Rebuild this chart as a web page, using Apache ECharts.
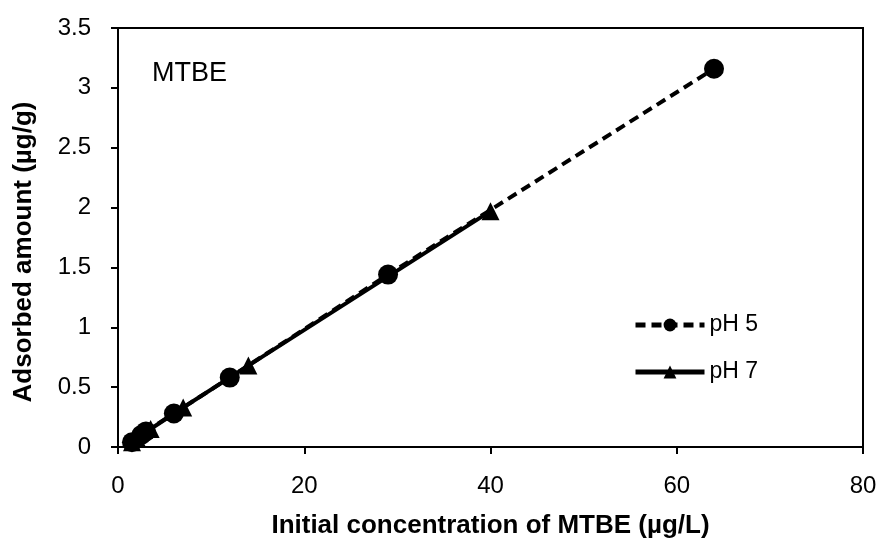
<!DOCTYPE html>
<html>
<head>
<meta charset="utf-8">
<script src="https://cdn.jsdelivr.net/npm/echarts@6/dist/echarts.min.js"></script>
<style>
  html, body { margin: 0; padding: 0; background: #fff; }
  #main { width: 881px; height: 544px; }
</style>
</head>
<body>
<div id="main"></div>
<script>
// values
var ph5 = [[1.5, 0.04], [2.5, 0.1], [3, 0.13], [6, 0.28], [12, 0.58], [29, 1.44], [64, 3.16]];
var ph7 = [[1.5, 0.04], [2, 0.08], [3.5, 0.15], [7, 0.33], [14, 0.68], [40, 1.97]];
var xTicks = [0, 20, 40, 60, 80];
var yTicks = [0, 0.5, 1, 1.5, 2, 2.5, 3, 3.5];

var myChart = echarts.init(document.getElementById('main'));

var font = 'Liberation Sans, Arial, sans-serif';

var option = {
  animation: false,
  textStyle: { fontFamily: font },
  graphic: [
    {
      type: 'text',
      left: 152,
      top: 60,
      style: { text: 'MTBE', font: '27px ' + font, fill: '#000' }
    },
    {
      // y axis title, placed by hand so it sits like the original
      type: 'text',
      x: 24,
      y: 252,
      rotation: Math.PI / 2,
      style: {
        text: 'Adsorbed amount (\u00b5g/g)',
        font: 'bold 26px ' + font,
        fill: '#000',
        textAlign: 'center',
        textVerticalAlign: 'middle'
      }
    }
  ],
  grid: {
    left: 118, right: 18, top: 28, bottom: 96,
    show: true, borderColor: '#000', borderWidth: 2
  },
  legend: {
    left: 628,
    top: 308,
    orient: 'vertical',
    itemWidth: 69,
    itemHeight: 16,
    itemGap: 23,
    lineStyle: { width: 5 },
    textStyle: { fontSize: 23, lineHeight: 24, color: '#000', fontFamily: font },
    data: ['pH 5', 'pH 7']
  },
  xAxis: {
    type: 'value',
    min: xTicks[0], max: xTicks[xTicks.length - 1], interval: 20,
    name: 'Initial concentration of MTBE (\u00b5g/L)',
    nameLocation: 'middle',
    nameGap: 66,
    nameTextStyle: { fontSize: 26, fontWeight: 'bold', color: '#000', fontFamily: font },
    axisLine: { lineStyle: { color: '#000', width: 2 } },
    axisTick: { inside: false, length: 7, lineStyle: { color: '#000', width: 2 } },
    axisLabel: { fontSize: 24, color: '#000', margin: 27 },
    splitLine: { show: false }
  },
  yAxis: {
    type: 'value',
    min: yTicks[0], max: yTicks[yTicks.length - 1], interval: 0.5,
    axisLine: { lineStyle: { color: '#000', width: 2 } },
    axisTick: { inside: false, length: 7, lineStyle: { color: '#000', width: 2 } },
    axisLabel: { fontSize: 24, color: '#000', margin: 27 },
    splitLine: { show: false }
  },
  series: [
    {
      name: 'pH 5',
      type: 'line',
      data: ph5,
      symbol: 'circle',
      symbolSize: 20,
      itemStyle: { color: '#000' },
      lineStyle: { color: '#000', width: 4, type: [10, 6] }
    },
    {
      name: 'pH 7',
      type: 'line',
      data: ph7,
      symbol: 'triangle',
      symbolSize: 18,
      itemStyle: { color: '#000' },
      lineStyle: { color: '#000', width: 4 }
    }
  ]
};

myChart.setOption(option);
</script>
</body>
</html>
